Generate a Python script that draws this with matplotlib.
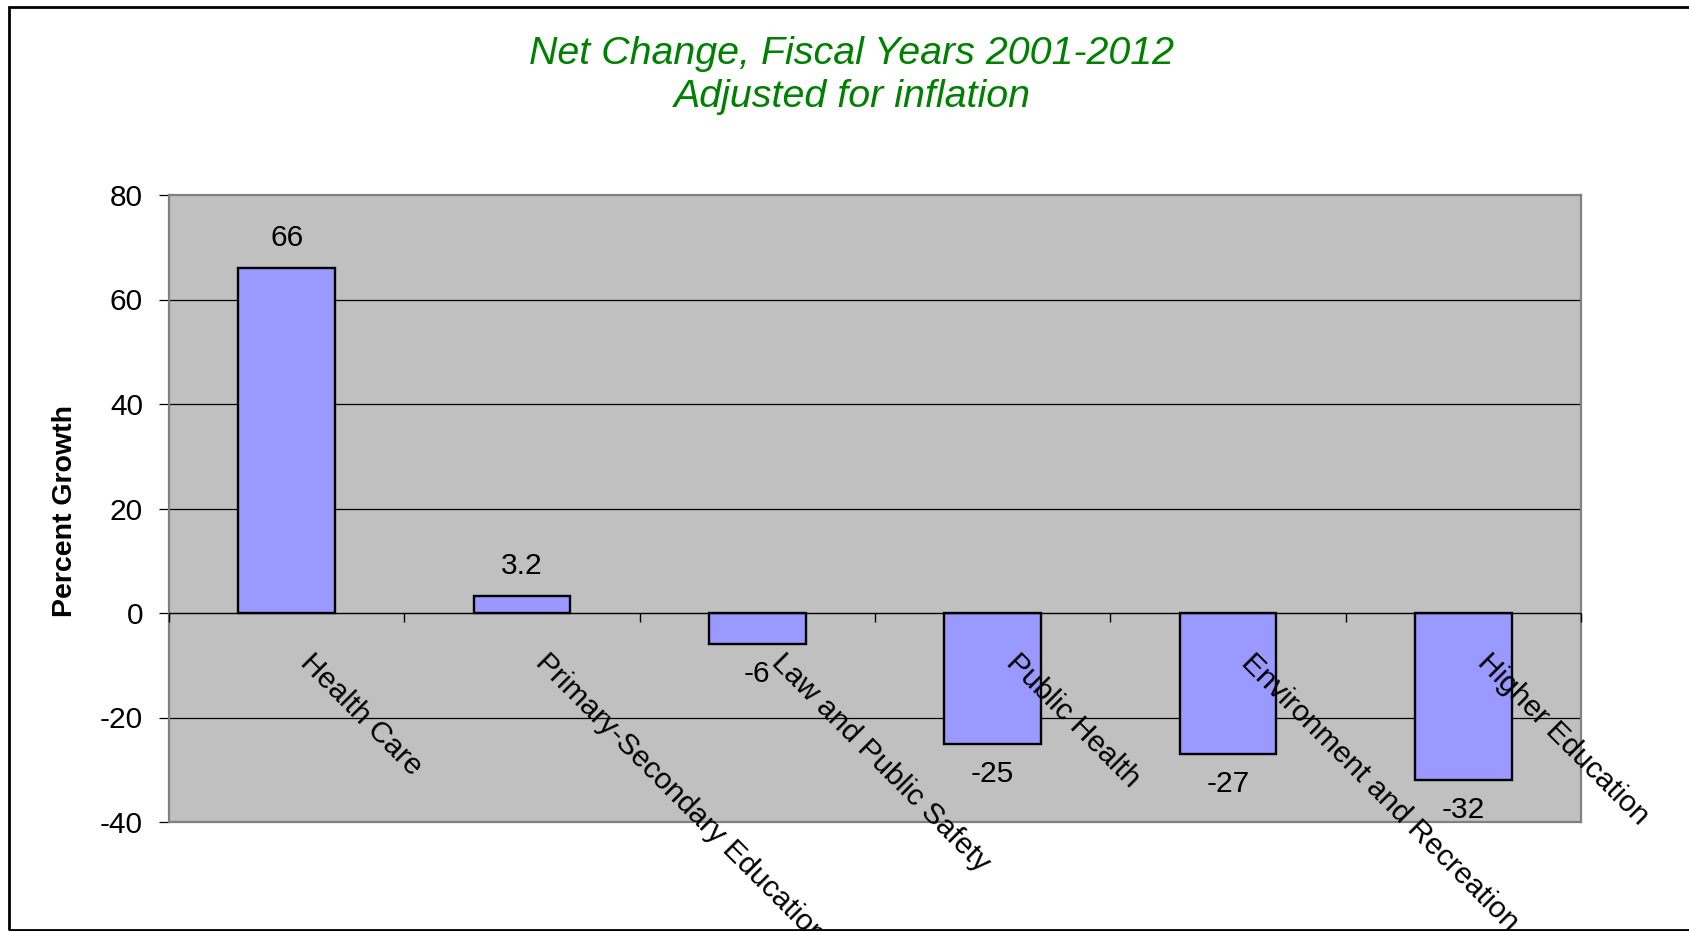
import matplotlib
matplotlib.use("Agg")
import matplotlib.pyplot as plt
from matplotlib.patches import Rectangle
import numpy as np

plt.rcParams['font.family'] = ['Liberation Sans', 'DejaVu Sans']
plt.rcParams['axes.unicode_minus'] = False

# Data
categories = ["Health Care", "Primary-Secondary Education", "Law and Public Safety",
              "Public Health", "Environment and Recreation", "Higher Education"]
growth = [66, 3.2, -6, -25, -27, -32]
value_labels = ["66", "3.2", "-6", "-25", "-27", "-32"]
y_ticks = [-40, -20, 0, 20, 40, 60, 80]
title_lines = ["Net Change, Fiscal Years 2001-2012", "Adjusted for inflation"]
y_label = "Percent Growth"

W, H = 1690, 931
fig = plt.figure(figsize=(W / 100, H / 100), dpi=100)
fig.patch.set_facecolor("white")

# plot area in pixel terms
left, right, top, bottom = 169, 1581, 195, 822
ax = fig.add_axes([left / W, 1 - bottom / H, (right - left) / W, (bottom - top) / H])
ax.set_facecolor("#C0C0C0")

x = np.arange(len(categories))
ax.set_xlim(-0.5, len(categories) - 0.5)
ax.set_ylim(min(y_ticks), max(y_ticks))

# gridlines
for t in y_ticks[1:-1]:
    if t != 0:
        ax.axhline(t, color="black", lw=0.9, zorder=1)

ax.bar(x, growth, width=0.41, color="#9999FF", edgecolor="black", linewidth=1.7, zorder=3)

# category axis at zero with tick marks between categories
ax.axhline(0, color="black", lw=1.0, zorder=4)
bounds = np.arange(len(categories) + 1) - 0.5
ax.vlines(bounds, -1.7, 0, color="black", lw=1.0, zorder=4, clip_on=False)

for s in ax.spines.values():
    s.set_color("#808080")
    s.set_linewidth(1.6)

ax.set_xticks([])
ax.set_yticks(y_ticks)
ax.set_yticklabels([str(t) for t in y_ticks])
ax.tick_params(axis="y", direction="out", length=7.2, width=0.9, color="black",
               pad=11.5, labelsize=21.5)

# value labels
for xi, v, lab in zip(x, growth, value_labels):
    off = 16.3 if v >= 0 else -27.3
    ax.annotate(lab, xy=(xi, v), xytext=(0, off), textcoords="offset points",
                ha="center", va="baseline", fontsize=21.5, color="black", zorder=5)

# rotated category labels hung from the zero line
for xi, cat in zip(x, categories):
    ax.annotate(cat, xy=(xi, 0), xytext=(20.2, -25.2), textcoords="offset points",
                ha="left", va="top", rotation=-45, rotation_mode="anchor",
                fontsize=21.5, color="black", zorder=6, annotation_clip=False)

# y axis title
fig.text(72 / W, 1 - 511 / H, y_label, rotation=90, rotation_mode="anchor",
         ha="center", va="baseline", fontsize=20.5, fontweight="bold")

# chart title
fig.text(852 / W, 1 - 64 / H, title_lines[0], ha="center", va="baseline",
         fontsize=28.4, style="italic", color="#008000")
fig.text(852 / W, 1 - 107 / H, title_lines[1], ha="center", va="baseline",
         fontsize=28.4, style="italic", color="#008000")

# outer chart frame (runs past the right edge)
fig.add_artist(Rectangle((9 / W, 1 - 929.5 / H), 1.2, (929.5 - 6.5) / H,
                         transform=fig.transFigure, fill=False, edgecolor="black",
                         linewidth=2.0, clip_on=False))

fig.savefig("out.png", dpi=100)
